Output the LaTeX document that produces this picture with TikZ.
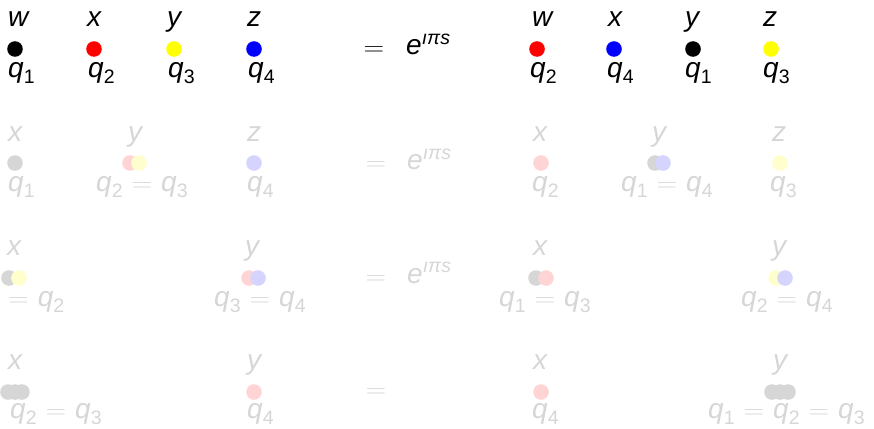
\documentclass[tikz,border=0pt]{standalone}
\usepackage{fontspec}
\setmainfont{Liberation Sans}
\usepackage{graphicx}
\newcommand\subs[1]{\raisebox{-0.22em}{\fontsize{19.5}{19.5}\selectfont\upshape #1}}
\newcommand\qv[1]{\textit{q}\subs{#1}}
\newcommand\eqs{\hspace{9pt}\scalebox{1.15}[1]{$=$}\hspace{9pt}}
\newcommand\eqsign{\scalebox{1.15}[1]{$=$}}
\newcommand\expo{\textit{e}\raisebox{0.37em}{\fontsize{19.5}{19.5}\selectfont\itshape ıπs}}
\definecolor{fgray}{RGB}{214,214,214}
\definecolor{fred}{RGB}{255,212,212}
\definecolor{fyel}{RGB}{255,255,205}
\definecolor{fblue}{RGB}{212,212,255}
\definecolor{yel}{RGB}{255,255,0}
\tikzset{
  lbl/.style={anchor=base west, inner sep=0pt, font=\fontsize{28}{32}\selectfont},
  flbl/.style={lbl, text=fgray},
  dot/.style={circle, inner sep=0pt, minimum size=15.6pt, draw=none},
}
\begin{document}
\begin{tikzpicture}[x=1pt,y=-1pt]
\useasboundingbox (0,0) rectangle (874,428);
% ---------- row 1 ----------
\node[lbl] (r1wL) at (8,27) {\textit{w}};
\node[lbl] (r1xL) at (87,27) {\textit{x}};
\node[lbl] (r1yL) at (167,27) {\textit{y}};
\node[lbl] (r1zL) at (247,27) {\textit{z}};
\node[dot, fill=black] (r1d1) at (15,49) {};
\node[dot, fill=red] (r1d2) at (94,49) {};
\node[dot, fill=yel] (r1d3) at (174,49) {};
\node[dot, fill=blue] (r1d4) at (254,49) {};
\node[lbl] (r1q1) at (8,77) {\qv{1}};
\node[lbl] (r1q2) at (88,77) {\qv{2}};
\node[lbl] (r1q3) at (168,77) {\qv{3}};
\node[lbl] (r1q4) at (248,77) {\qv{4}};
\node[lbl] (r1eq) at (363.5,56) {\eqsign};
\node[lbl] (r1ex) at (406,55) {\expo};
\node[lbl] (r1wR) at (532,27) {\textit{w}};
\node[lbl] (r1xR) at (608,27) {\textit{x}};
\node[lbl] (r1yR) at (685,27) {\textit{y}};
\node[lbl] (r1zR) at (763,27) {\textit{z}};
\node[dot, fill=red] (r1e1) at (537,49) {};
\node[dot, fill=blue] (r1e2) at (614,49) {};
\node[dot, fill=black] (r1e3) at (693,49) {};
\node[dot, fill=yel] (r1e4) at (771,49) {};
\node[lbl] (r1p2) at (530,77) {\qv{2}};
\node[lbl] (r1p4) at (607,77) {\qv{4}};
\node[lbl] (r1p1) at (685,77) {\qv{1}};
\node[lbl] (r1p3) at (763,77) {\qv{3}};
% ---------- row 2 ----------
\node[flbl] (r2xL) at (8,141) {\textit{x}};
\node[flbl] (r2yL) at (128,141) {\textit{y}};
\node[flbl] (r2zL) at (247,141) {\textit{z}};
\node[dot, fill=fgray] (r2d1) at (15,163) {};
\node[dot, fill=fred] (r2d2) at (130,163) {};
\node[dot, fill=fyel] (r2d3) at (139,163) {};
\node[dot, fill=fblue] (r2d4) at (254,163) {};
\node[flbl] (r2q1) at (8,191) {\qv{1}};
\node[flbl] (r2q23) at (96,191) {\qv{2}\eqs\qv{3}};
\node[flbl] (r2q4) at (247,191) {\qv{4}};
\node[flbl] (r2eq) at (365.5,170.5) {\eqsign};
\node[flbl] (r2ex) at (407,169.5) {\expo};
\node[flbl] (r2xR) at (533,141) {\textit{x}};
\node[flbl] (r2yR) at (652,141) {\textit{y}};
\node[flbl] (r2zR) at (772,141) {\textit{z}};
\node[dot, fill=fred] (r2e1) at (541,163) {};
\node[dot, fill=fgray] (r2e2) at (655,163) {};
\node[dot, fill=fblue] (r2e3) at (663,163) {};
\node[dot, fill=fyel] (r2e4) at (780,163) {};
\node[flbl] (r2p2) at (532,191) {\qv{2}};
\node[flbl] (r2p14) at (621,191) {\qv{1}\eqs\qv{4}};
\node[flbl] (r2p3) at (770,191) {\qv{3}};
% ---------- row 3 ----------
\node[flbl] (r3xL) at (7,255) {\textit{x}};
\node[flbl] (r3yL) at (245,255) {\textit{y}};
\node[dot, fill=fgray] (r3d1) at (9,278) {};
\node[dot, fill=fyel] (r3d2) at (19,278) {};
\node[dot, fill=fred] (r3d3) at (249,278) {};
\node[dot, fill=fblue] (r3d4) at (258,278) {};
\node[flbl] (r3q12) at (8,306) {\scalebox{1.15}[1]{$=$}\hspace{9pt}\qv{2}};
\node[flbl] (r3q34) at (214,306) {\qv{3}\eqs\qv{4}};
\node[flbl] (r3eq) at (365.5,284) {\eqsign};
\node[flbl] (r3ex) at (407,283) {\expo};
\node[flbl] (r3xR) at (533,255) {\textit{x}};
\node[flbl] (r3yR) at (772,255) {\textit{y}};
\node[dot, fill=fgray] (r3e1) at (536,278) {};
\node[dot, fill=fred] (r3e2) at (546,278) {};
\node[dot, fill=fyel] (r3e3) at (776,278) {};
\node[dot, fill=fblue] (r3e4) at (785,278) {};
\node[flbl] (r3p13) at (499,306) {\qv{1}\eqs\qv{3}};
\node[flbl] (r3p24) at (741,306) {\qv{2}\eqs\qv{4}};
% ---------- row 4 ----------
\node[flbl] (r4xL) at (8,369) {\textit{x}};
\node[flbl] (r4yL) at (247,369) {\textit{y}};
\node[dot, fill=fgray] (r4d1) at (8,392) {};
\node[dot, fill=fgray] (r4d2) at (15,392) {};
\node[dot, fill=fgray] (r4d3) at (22,392) {};
\node[dot, fill=fred] (r4d4) at (254,392) {};
\node[flbl] (r4q23) at (10,418) {\qv{2}\eqs\qv{3}};
\node[flbl] (r4q4) at (247,418) {\qv{4}};
\node[flbl] (r4eq) at (365.5,397.5) {\eqsign};
\node[flbl] (r4xR) at (533,369) {\textit{x}};
\node[flbl] (r4yR) at (773,369) {\textit{y}};
\node[dot, fill=fred] (r4e1) at (541,392) {};
\node[dot, fill=fgray] (r4e2) at (772,392) {};
\node[dot, fill=fgray] (r4e3) at (780,392) {};
\node[dot, fill=fgray] (r4e4) at (788,392) {};
\node[flbl] (r4p4) at (532,418) {\qv{4}};
\node[flbl] (r4p123) at (708,418) {\qv{1}\eqs\qv{2}\eqs\qv{3}};
\end{tikzpicture}
\end{document}
